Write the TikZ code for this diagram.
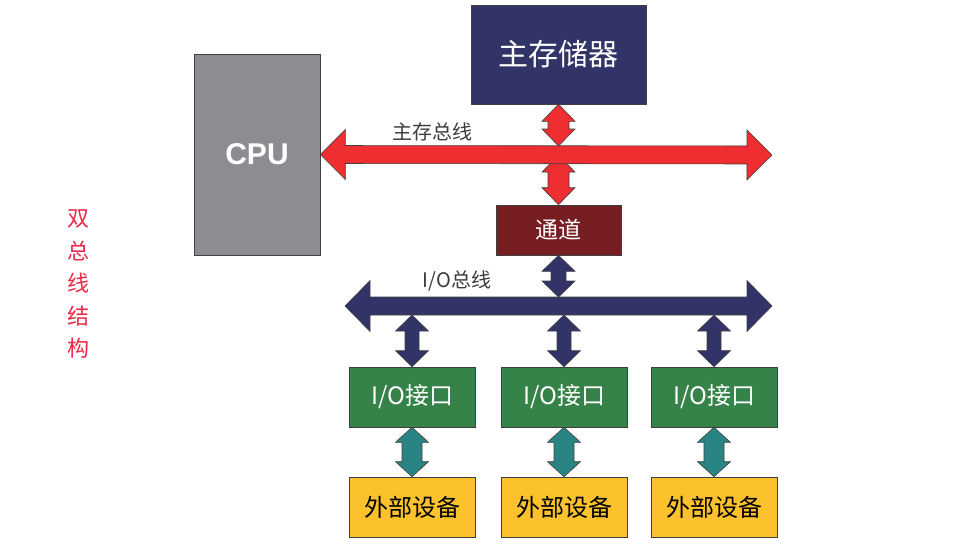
\documentclass[tikz,border=0pt]{standalone}
\usepackage{fontspec}
\setmainfont{Noto Sans CJK SC}
\newfontfamily\cpufont{Liberation Sans}
\usetikzlibrary{calc}

\definecolor{cpugray}{RGB}{140,141,145}
\definecolor{memblue}{RGB}{50,52,104}
\definecolor{busred}{RGB}{238,46,48}
\definecolor{chanred}{RGB}{118,30,34}
\definecolor{iogreen}{RGB}{53,131,72}
\definecolor{devyellow}{RGB}{251,194,46}
\definecolor{linkteal}{RGB}{42,132,131}
\definecolor{titlered}{RGB}{235,40,70}
\definecolor{lblgray}{RGB}{60,60,60}

% fat two-headed arrow: #1 colour, #2 one end, #3 other end,
% #4 half shaft width, #5 half head width, #6 head length
\newcommand{\busarrow}[6]{%
  \coordinate (faP) at ($(#2)!#6!(#3)$);
  \coordinate (faQ) at ($(#3)!#6!(#2)$);
  \filldraw[fill=#1,outline] (#2) -- ($(faP)!#5!90:(#3)$) -- ($(faP)!#4!90:(#3)$)
    -- ($(faQ)!#4!-90:(#2)$) -- ($(faQ)!#5!-90:(#2)$) -- (#3)
    -- ($(faQ)!#5!90:(#2)$) -- ($(faQ)!#4!90:(#2)$)
    -- ($(faP)!#4!-90:(#3)$) -- ($(faP)!#5!-90:(#3)$) -- cycle;
}

\tikzset{
  outline/.style={draw=black!75,line width=0.6pt},
  unitbox/.style={outline,inner sep=0pt,text=white},
  iobox/.style={unitbox,fill=iogreen,minimum width=126pt,minimum height=60pt,
    font=\fontsize{24}{28}\selectfont},
  devbox/.style={unitbox,fill=devyellow,text=black,minimum width=126pt,minimum height=60pt,
    font=\fontsize{24}{28}\selectfont},
  buslabel/.style={text=lblgray,inner sep=0pt}
}

\begin{document}
\begin{tikzpicture}[x=1pt,y=-1pt]

	\useasboundingbox (0,0) rectangle (958,557);

	% processor and memory
	\node (cpu) at (257,154.5) [unitbox,fill=cpugray,minimum width=126pt,minimum height=201pt,
		font=\cpufont\bfseries\fontsize{30}{34}\selectfont] {CPU};
	\node (mem) at (558.5,54.5) [unitbox,fill=memblue,minimum width=175pt,minimum height=99pt,
		font=\fontsize{30}{34}\selectfont] {主存储器};
	\node (chan) at (558.5,230) [unitbox,fill=chanred,minimum width=125pt,minimum height=50pt,
		font=\fontsize{23}{27}\selectfont] {通道};

	% memory bus
	\coordinate (memL) at (cpu.east);
	\coordinate (memR) at (772,155);
	\coordinate (memTop) at (mem.south |- 0,146);
	\coordinate (memMid) at (mem.south |- memR);
	\busarrow{busred}{memMid}{chan.north}{10.5pt}{16.5pt}{17pt}
	\busarrow{busred}{memL}{memR}{9pt}{25pt}{25pt}
	\busarrow{busred}{mem.south}{memTop}{10.5pt}{16.5pt}{17pt}
	\node (memlbl) at (432,132) [buslabel,font=\fontsize{20}{24}\selectfont] {主存总线};

	% I/O bus
	\coordinate (ioL) at (345,306);
	\coordinate (ioR) at (772,306);
	\coordinate (ioTop) at (chan.south |- 0,297);
	\busarrow{memblue}{ioL}{ioR}{9pt}{25.5pt}{25pt}
	\busarrow{memblue}{chan.south}{ioTop}{7.5pt}{16.5pt}{16pt}
	\node (iolbl) at (457,281) [buslabel,font=\fontsize{20}{24}\selectfont] {I/O总线};

	% interfaces and devices
	\foreach \x [count=\i] in {412,564,714} {
		\node (io\i) at (\x,397) [iobox] {I/O接口};
		\node (dev\i) at (\x,507) [devbox] {外部设备};
		\coordinate (iob\i) at (io\i.north |- 0,315);
		\busarrow{memblue}{iob\i}{io\i.north}{7pt}{16.5pt}{16pt}
		\busarrow{linkteal}{io\i.south}{dev\i.north}{10pt}{16.5pt}{15pt}
	}

	\node (title) at (78,284) [align=center,text=titlered,
		font=\fontsize{22}{32.5}\selectfont] {双\\总\\线\\结\\构};

\end{tikzpicture}
\end{document}
